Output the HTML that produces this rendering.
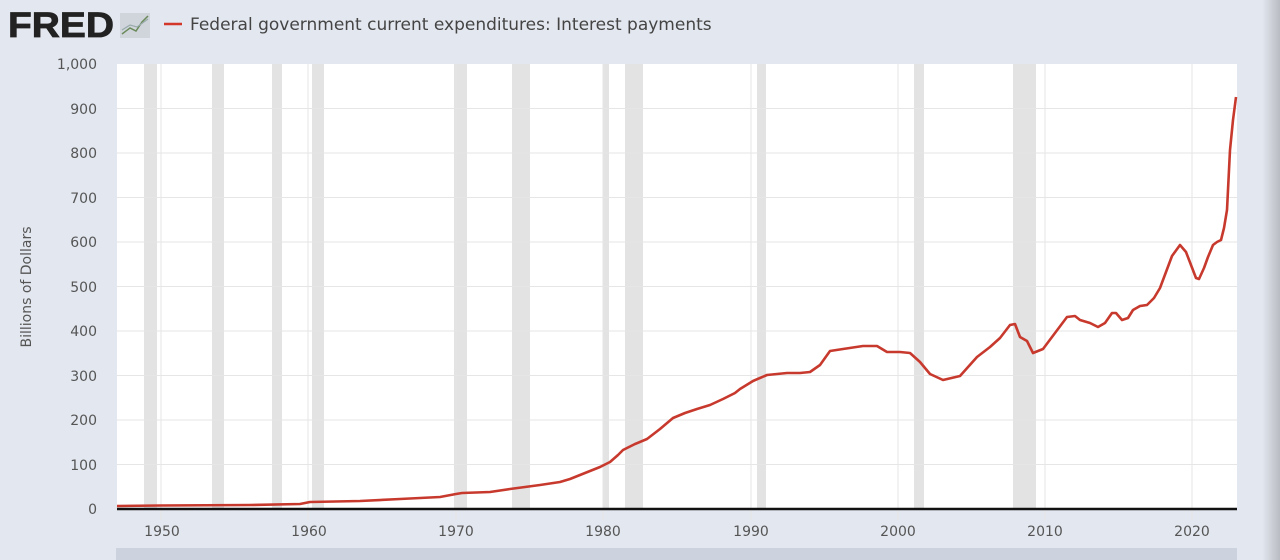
<!DOCTYPE html>
<html><head><meta charset="utf-8"><style>
html,body{margin:0;padding:0;width:1280px;height:560px;overflow:hidden;background:#e3e7ef;font-family:"Liberation Sans",sans-serif;}
</style></head><body>
<svg width="1280" height="560" viewBox="0 0 1280 560" xmlns="http://www.w3.org/2000/svg">
<defs><linearGradient id="rg" x1="0" x2="1"><stop offset="0" stop-color="#e3e7ef"/><stop offset="1" stop-color="#b9bcc2"/></linearGradient></defs>
<rect x="1262" y="0" width="18" height="560" fill="url(#rg)"/>
<text x="8" y="37" font-size="35" font-weight="bold" fill="#222" textLength="106" lengthAdjust="spacingAndGlyphs" stroke="#222" stroke-width="0.8">FRED</text>
<rect x="120" y="13" width="30" height="25" fill="#d0d5dc"/>
<polyline points="122,34 130,28 136,31 142,22 148,16" fill="none" stroke="#6a8a5a" stroke-width="1.5"/>
<polyline points="122,30 130,25 137,27 148,19" fill="none" stroke="#9aa" stroke-width="1.2"/>
<line x1="164" y1="24" x2="182" y2="24" stroke="#d2372a" stroke-width="2.5"/>
<text x="190" y="30" font-size="17" fill="#444" font-family="'DejaVu Sans',sans-serif">Federal government current expenditures: Interest payments</text>
<rect x="117" y="64" width="1120" height="445" fill="#fff"/>
<g fill="#e3e3e3">
<rect x="144" y="64" width="13" height="445"/><rect x="212" y="64" width="12" height="445"/>
<rect x="272" y="64" width="10" height="445"/><rect x="312" y="64" width="12" height="445"/>
<rect x="454" y="64" width="13" height="445"/><rect x="512" y="64" width="18" height="445"/>
<rect x="603" y="64" width="6" height="445"/><rect x="625" y="64" width="18" height="445"/>
<rect x="757" y="64" width="9" height="445"/><rect x="914" y="64" width="10" height="445"/>
<rect x="1013" y="64" width="23" height="445"/>
</g>
<g stroke="#e6e6e6" stroke-width="1">
<line x1="117" x2="1237" y1="108.5" y2="108.5"/><line x1="117" x2="1237" y1="153" y2="153"/>
<line x1="117" x2="1237" y1="197.5" y2="197.5"/><line x1="117" x2="1237" y1="242" y2="242"/>
<line x1="117" x2="1237" y1="286.5" y2="286.5"/><line x1="117" x2="1237" y1="331" y2="331"/>
<line x1="117" x2="1237" y1="375.5" y2="375.5"/><line x1="117" x2="1237" y1="420" y2="420"/>
<line x1="117" x2="1237" y1="464.5" y2="464.5"/>
<line x1="161" x2="161" y1="64" y2="520"/><line x1="308" x2="308" y1="64" y2="520"/>
<line x1="456" x2="456" y1="64" y2="520"/><line x1="603" x2="603" y1="64" y2="520"/>
<line x1="751" x2="751" y1="64" y2="520"/><line x1="898" x2="898" y1="64" y2="520"/>
<line x1="1045" x2="1045" y1="64" y2="520"/><line x1="1192" x2="1192" y1="64" y2="520"/>
</g>
<line x1="117" x2="1237" y1="509" y2="509" stroke="#111" stroke-width="2.5"/>
<polyline fill="none" stroke="#c8392d" stroke-width="2.6" stroke-linejoin="round" points="117,506 161,505.5 250,505 300,504 310,502 360,501 400,499 440,497 456,494 462,493 490,492 510,489 540,485 560,482 570,479 585,473 600,467 610,462 618,455 623,450 635,444 647,439 660,429 673,418 685,413 697,409 710,405 723,399 735,393 740,389 753,381 767,375 787,373 800,373 810,372 820,365 830,351 843,349 863,346 877,346 887,352 900,352 910,353 920,362 930,374 943,380 960,376 977,357 990,347 1000,338 1010,325 1015,324 1020,337 1027,341 1033,353 1043,349 1055,333 1067,317 1075,316 1080,320 1090,323 1098,327 1105,323 1112,313 1116,313 1122,320 1128,318 1133,310 1140,306 1147,305 1154,298 1160,288 1166,272 1172,256 1180,245 1186,252 1191,265 1196,278 1199,279 1204,268 1208,257 1213,245 1217,242 1221,240 1224,228 1227,210 1230,150 1233,120 1236,97"/>
<g font-size="14" fill="#555" text-anchor="end" font-family="'DejaVu Sans',sans-serif">
<text x="97" y="69">1,000</text><text x="97" y="114">900</text><text x="97" y="158">800</text>
<text x="97" y="203">700</text><text x="97" y="247">600</text><text x="97" y="292">500</text>
<text x="97" y="336">400</text><text x="97" y="381">300</text><text x="97" y="425">200</text>
<text x="97" y="470">100</text><text x="97" y="514">0</text>
</g>
<g font-size="14" fill="#555" text-anchor="middle" font-family="'DejaVu Sans',sans-serif">
<text x="162" y="536">1950</text><text x="309" y="536">1960</text><text x="456" y="536">1970</text>
<text x="603" y="536">1980</text><text x="751" y="536">1990</text><text x="898" y="536">2000</text>
<text x="1045" y="536">2010</text><text x="1192" y="536">2020</text>
</g>
<text transform="translate(31,287) rotate(-90)" font-size="14" fill="#555" text-anchor="middle" font-family="'DejaVu Sans',sans-serif">Billions of Dollars</text>
<rect x="116" y="548" width="1121" height="12" fill="#cdd3de"/>
</svg>
</body></html>
